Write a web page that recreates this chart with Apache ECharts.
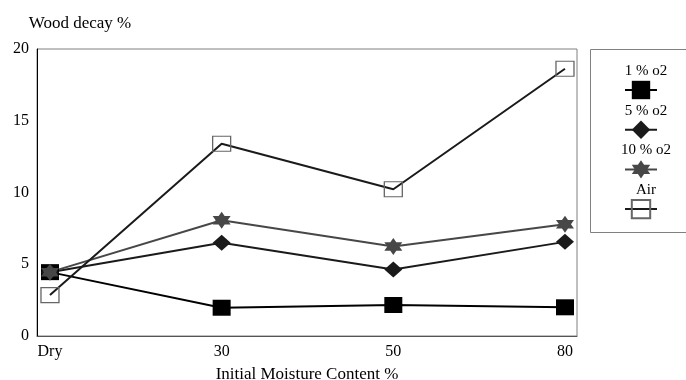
<!DOCTYPE html>
<html>
<head>
<meta charset="utf-8">
<script src="https://cdn.jsdelivr.net/npm/echarts@6/dist/echarts.min.js"></script>
<style>html,body{margin:0;padding:0;background:#fff}#c{width:686px;height:380px}</style>
</head>
<body>
<div id="c"></div>
<script>
const categories = ['Dry', '30', '50', '80'];
const seriesNames = ['1 % o2', '5 % o2', '10 % o2', 'Air'];
const o2_1 = [4.45, 1.97, 2.16, 2.0];
const o2_5 = [4.45, 6.5, 4.64, 6.56];
const o2_10 = [4.45, 8.07, 6.24, 7.79];
const air = [2.85, 13.4, 10.23, 18.62];
const yTicks = [0, 5, 10, 15, 20];

const FONT = '"Liberation Serif", "DejaVu Serif", serif';
const star = 'path://M0,-1 L0.2887,-0.5 L0.866,-0.5 L0.577,0 L0.866,0.5 L0.2887,0.5 L0,1 L-0.2887,0.5 L-0.866,0.5 L-0.577,0 L-0.866,-0.5 L-0.2887,-0.5 Z';

function pts(arr) { return arr.map((v, i) => [i, v]); }

const chart = echarts.init(document.getElementById('c'), null, {renderer: 'canvas'});
chart.setOption({
  animation: false,
  backgroundColor: '#fff',
  grid: {left: 37, top: 49, right: 109, bottom: 44, outerBoundsMode: 'none', containLabel: false,
         show: true, borderColor: '#808080', borderWidth: 1},
  xAxis: {
    type: 'value', min: -0.0756, max: 3.07,
    name: 'Initial Moisture Content %', nameLocation: 'middle', nameGap: 30,
    nameTextStyle: {fontFamily: FONT, fontSize: 17, color: '#000'},
    axisLine: {show: true, onZero: false, lineStyle: {color: '#555', width: 1}},
    axisTick: {show: false},
    splitLine: {show: false},
    axisLabel: {
      customValues: [0, 1, 2, 3],
      formatter: v => categories[Math.round(v)],
      fontFamily: FONT, fontSize: 16, color: '#000', margin: 8
    }
  },
  yAxis: {
    type: 'value', min: yTicks[0], max: yTicks[yTicks.length - 1], interval: 5,
    name: 'Wood decay %', nameLocation: 'end', nameGap: 17,
    nameTextStyle: {fontFamily: FONT, fontSize: 17, color: '#000', align: 'center', padding: [0, 0, 0, 86]},
    axisLine: {show: true, onZero: false, lineStyle: {color: '#000', width: 1}},
    axisTick: {show: false},
    splitLine: {show: false},
    axisLabel: {fontFamily: FONT, fontSize: 16, color: '#000', margin: 8}
  },
  legend: {
    orient: 'vertical', left: 621, top: 63.5, padding: 0,
    itemWidth: 32, itemHeight: 23, itemGap: 4,
    data: seriesNames,
    formatter: n => '{a|' + n + '}',
    textStyle: {
      fontFamily: FONT, fontSize: 15, color: '#000',
      padding: [0, 0, 38, -51],
      rich: {a: {width: 70, align: 'center', fontFamily: FONT, fontSize: 15, color: '#000'}}
    }
  },
  graphic: [{
    type: 'rect', left: 588, top: 47, silent: true,
    shape: {width: 110, height: 183},
    style: {fill: 'none', stroke: '#808080', lineWidth: 1}
  }],
  series: [
    {name: seriesNames[0], type: 'line', data: pts(o2_1), symbol: 'rect', symbolSize: [18, 16],
     lineStyle: {color: '#000', width: 2}, itemStyle: {color: '#000'}},
    {name: seriesNames[1], type: 'line', data: pts(o2_5), symbol: 'diamond', symbolSize: [18, 16],
     lineStyle: {color: '#1a1a1a', width: 2}, itemStyle: {color: '#1a1a1a'}},
    {name: seriesNames[2], type: 'line', data: pts(o2_10), symbol: star, symbolSize: [18, 17],
     lineStyle: {color: '#474747', width: 2}, itemStyle: {color: '#474747'}},
    {name: seriesNames[3], type: 'line', data: pts(air), symbol: 'rect', symbolSize: [18, 15],
     lineStyle: {color: '#1a1a1a', width: 2},
     itemStyle: {color: 'rgba(255,255,255,0)', borderColor: '#666', borderWidth: 1.2}}
  ]
});
</script>
</body>
</html>
